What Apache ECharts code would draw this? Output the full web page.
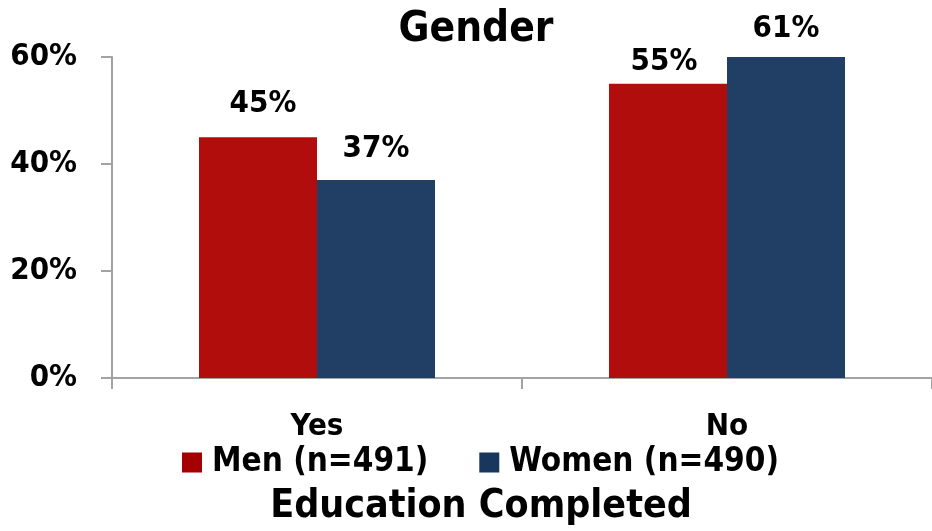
<!DOCTYPE html>
<html>
<head>
<meta charset="utf-8">
<script src="https://cdn.jsdelivr.net/npm/echarts@6/dist/echarts.min.js"></script>
<style>
  html, body { margin: 0; padding: 0; background: #ffffff; }
  #chart { width: 932px; height: 531px; }
</style>
</head>
<body>
<div id="chart"></div>
<script>
// Share of respondents by completed education, split by gender
const categories = ['Yes', 'No'];
const seriesNames = ['Men (n=491)', 'Women (n=490)'];
const menValues = [45, 55];
const womenValues = [37, 61];
const yTicks = [0, 20, 40, 60];

const FONT = '"DejaVu Sans Condensed", "DejaVu Sans", sans-serif';
const AXIS_COLOR = '#a3a3a3';

// per-bar label placement tweaks: [dx, gapAboveBar]
const menLabelPos = [[5, 18], [-4, 6]];
const womenLabelPos = [[0, 16], [0, 13]];

function withLabels(values, pos) {
  return values.map((v, i) => ({
    value: v,
    label: { distance: pos[i][1], offset: [pos[i][0], 0] }
  }));
}

const chart = echarts.init(document.getElementById('chart'), null, { renderer: 'canvas' });

chart.setOption({
  animation: false,
  backgroundColor: '#ffffff',
  title: [{
    text: 'Gender',
    left: 471,
    textAlign: 'center',
    top: 4,
    textStyle: { fontFamily: FONT, fontWeight: 'bold', fontSize: 42, color: '#000' }
  }, {
    text: 'Education Completed',
    left: 476,
    textAlign: 'center',
    top: 482,
    textStyle: { fontFamily: FONT, fontWeight: 'bold', fontSize: 39, color: '#000' }
  }],
  legend: {
    left: 177,
    top: 441,
    itemWidth: 20,
    itemHeight: 20,
    itemGap: 51,
    icon: 'rect',
    textStyle: { fontFamily: FONT, fontWeight: 'bold', fontSize: 33, color: '#000', padding: [0, 0, 0, 5] },
    data: [
      { name: seriesNames[0], itemStyle: { color: '#a30000' } },
      { name: seriesNames[1], itemStyle: { color: '#17375e' } }
    ]
  },
  grid: { left: 112, top: 57, width: 824, height: 321, containLabel: false },
  xAxis: {
    type: 'category',
    data: categories,
    axisLine: { lineStyle: { color: AXIS_COLOR, width: 2 } },
    axisTick: { show: true, length: 11, lineStyle: { color: AXIS_COLOR, width: 2 } },
    axisLabel: { fontFamily: FONT, fontWeight: 'bold', fontSize: 31, color: '#000', margin: 33 }
  },
  yAxis: {
    type: 'value',
    min: yTicks[0],
    max: yTicks[yTicks.length - 1],
    interval: yTicks[1] - yTicks[0],
    axisLine: { show: true, lineStyle: { color: AXIS_COLOR, width: 2 } },
    axisTick: { show: true, length: 11, lineStyle: { color: AXIS_COLOR, width: 2 } },
    splitLine: { show: false },
    axisLabel: {
      fontFamily: FONT, fontWeight: 'bold', fontSize: 31, color: '#000', margin: 35,
      formatter: v => v + '%'
    }
  },
  series: [{
    name: seriesNames[0],
    type: 'bar',
    data: withLabels(menValues, menLabelPos),
    barWidth: 118,
    barGap: '0%',
    clip: true,
    itemStyle: { color: '#b20d0d' },
    label: {
      show: true, position: 'top',
      fontFamily: FONT, fontWeight: 'bold', fontSize: 31, color: '#000',
      formatter: p => p.value + '%'
    }
  }, {
    name: seriesNames[1],
    type: 'bar',
    data: withLabels(womenValues, womenLabelPos),
    barWidth: 118,
    barGap: '0%',
    clip: true,
    itemStyle: { color: '#213f65' },
    label: {
      show: true, position: 'top',
      fontFamily: FONT, fontWeight: 'bold', fontSize: 31, color: '#000',
      formatter: p => p.value + '%'
    }
  }]
});
</script>
</body>
</html>
